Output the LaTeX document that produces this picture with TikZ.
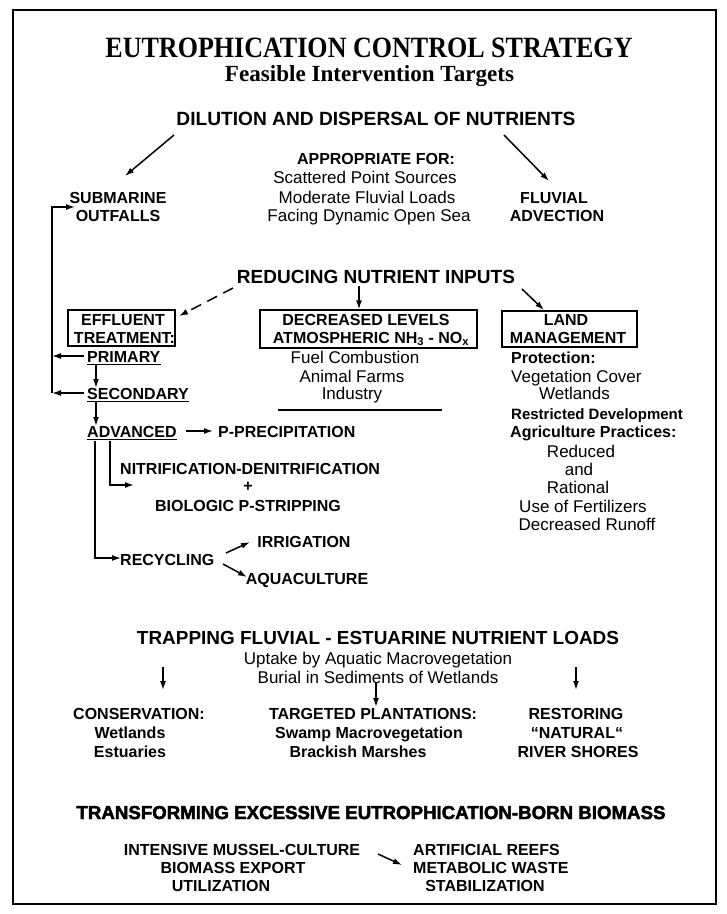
\documentclass[tikz,border=0pt]{standalone}
\usepackage{fontspec}
\usepackage{graphicx}
\setmainfont{Liberation Sans}
\newfontfamily\serifb{Liberation Serif}
\newfontfamily\heavyfont{Liberation Sans Bold}[FakeBold=2.5]
\usetikzlibrary{arrows.meta}
\begin{document}
\begin{tikzpicture}[x=1pt,y=-1pt,
  lb/.style={font=\fontsize{16}{18}\selectfont\bfseries, inner sep=0pt, anchor=base},
  lbw/.style={lb, anchor=base west},
  rg/.style={font=\fontsize{17}{19}\selectfont, inner sep=0pt, anchor=base},
  rgw/.style={rg, anchor=base west},
  hd/.style={inner sep=0pt, anchor=base},
  arr/.style={-{Latex[length=9pt,width=6pt]}, line width=1.5pt},
  bx/.style={draw, line width=1.3pt, inner sep=0pt},
  ul/.style={line width=1.2pt}]
\useasboundingbox (0,0) rectangle (727,914);
\draw[line width=1.6pt] (13,10) rectangle (716,904);

% titles
\node[hd] (t1) at (369,57.5) {\resizebox{527pt}{19.5pt}{\serifb\bfseries EUTROPHICATION CONTROL STRATEGY}};
\node[hd] (t2) at (369.5,81) {\resizebox{289pt}{!}{\serifb\bfseries Feasible Intervention Targets}};

% dilution
\node[hd] (dil) at (376,125) {\resizebox{399pt}{!}{\bfseries DILUTION AND DISPERSAL OF NUTRIENTS}};
\node[lb] (app) at (376,164) {APPROPRIATE FOR:};
\node[rg] (sc1) at (365,183) {Scattered Point Sources};
\node[rg] (sc2) at (367,203) {Moderate Fluvial Loads};
\node[rg] (sc3) at (369,221) {Facing Dynamic Open Sea};
\node[lb] (sub1) at (118,203) {SUBMARINE};
\node[lb] (sub2) at (118,221) {OUTFALLS};
\node[lb] (flu1) at (554,203) {FLUVIAL};
\node[lb] (flu2) at (557,221) {ADVECTION};
\coordinate (dA) at (174,135); \coordinate (dB) at (125,176);
\coordinate (dC) at (504,135); \coordinate (dD) at (549,181);
\draw[arr] (dA) -- (dB);
\draw[arr] (dC) -- (dD);

% reducing
\node[hd] (red) at (376,283) {\resizebox{278pt}{!}{\bfseries REDUCING NUTRIENT INPUTS}};
\node[bx, minimum width=107pt, minimum height=36pt] (efbox) at (121.5,328) {};
\node[lb] (ef1) at (123,325) {EFFLUENT};
\node[lb] (ef2) at (124.5,343) {TREATMENT:};
\node[lbw] (pri) at (87,362) {PRIMARY};
\node[lbw] (sec) at (87,399) {SECONDARY};
\node[lbw] (adv) at (87,437) {ADVANCED};
\draw[ul] ([yshift=-2.5pt]pri.base west) -- ([yshift=-2.5pt]pri.base east);
\draw[ul] ([yshift=-2.5pt]sec.base west) -- ([yshift=-2.5pt]sec.base east);
\draw[ul] ([yshift=-2.5pt]adv.base west) -- ([yshift=-2.5pt]adv.base east);
\node[lbw] (pp) at (218,437) {P-PRECIPITATION};
\node[lbw] (nit) at (120,474) {NITRIFICATION-DENITRIFICATION};
\node[lb] (plus) at (248,491) {+};
\node[lb] (bio) at (248,511) {BIOLOGIC P-STRIPPING};
\node[lb] (irr) at (304,547) {IRRIGATION};
\node[lbw] (rec) at (120,565) {RECYCLING};
\node[lb] (aqu) at (307,584) {AQUACULTURE};

\coordinate (vTop) at (52,207); \coordinate (vEnd) at (75,207);
\coordinate (pL) at (52,356); \coordinate (sL) at (52,393);
\draw[arr] (sL) -- (vTop) -- (vEnd);
\draw[arr] (84,356) -- (pL);
\draw[arr] (84,393) -- (sL);
\draw[arr] (96,365) -- (96,388);
\draw[arr] (96,402) -- (96,426);
\draw[arr] (186,431) -- (213,431);
\draw[arr] (95,441) -- (95,558) -- (121,558);
\draw[arr] (110,441) -- (110,485) -- (134,485);
\coordinate (rcA) at (226,553); \coordinate (rcB) at (250,542);
\coordinate (rcC) at (223,564); \coordinate (rcD) at (247,577);
\draw[arr] (rcA) -- (rcB);
\draw[arr] (rcC) -- (rcD);

\node[bx, minimum width=217pt, minimum height=38pt] (dlbox) at (368.5,329) {};
\node[lb] (dl1) at (366,325) {DECREASED LEVELS};
\node[lb] (dl2) at (371,343) {ATMOSPHERIC NH\textsubscript{3} - NO\textsubscript{x}};
\node[rg] (fc1) at (355,363) {Fuel Combustion};
\node[rg] (fc2) at (352,382) {Animal Farms};
\node[rg] (fc3) at (352,399) {Industry};
\coordinate (hlA) at (278,410); \coordinate (hlB) at (442,410);
\draw[line width=1.3pt] (hlA) -- (hlB);

\node[bx, minimum width=135pt, minimum height=36pt] (lmbox) at (569.5,329) {};
\node[lb] (lm1) at (566,325) {LAND};
\node[lb] (lm2) at (568,343) {MANAGEMENT};
\node[lbw] (pr) at (511,363) {Protection:};
\node[rgw] (vc) at (511,382) {Vegetation Cover};
\node[rgw] (wl) at (539,399) {Wetlands};
\node[lbw, font=\fontsize{15}{17}\selectfont\bfseries] (rd) at (511,419) {Restricted Development};
\node[lbw] (ap) at (510,437) {Agriculture Practices:};
\node[rg] (r1) at (581,457) {Reduced};
\node[rg] (r2) at (579,475) {and};
\node[rg] (r3) at (578,493) {Rational};
\node[rg] (r4) at (583,512) {Use of Fertilizers};
\node[rg] (r5) at (587,530) {Decreased Runoff};

\coordinate (rA) at (233,288); \coordinate (rB) at (179,316);
\draw[arr, dash pattern=on 11pt off 7pt] (rA) -- (rB);
\draw[arr] (359,286) -- (dlbox.north -| 359,0);
\coordinate (rC) at (522,289); \coordinate (rD) at (544,310);
\draw[arr] (rC) -- (rD);

% trapping
\node[hd] (trap) at (378,644) {\resizebox{482pt}{!}{\bfseries TRAPPING FLUVIAL - ESTUARINE NUTRIENT LOADS}};
\node[rg] (up1) at (378,664) {Uptake by Aquatic Macrovegetation};
\node[rg] (up2) at (378,683) {Burial in Sediments of Wetlands};
\node[lb] (c1) at (139,719) {CONSERVATION:};
\node[lb] (c2) at (130,738) {Wetlands};
\node[lb] (c3) at (130,757) {Estuaries};
\node[lb] (tp1) at (373,719) {TARGETED PLANTATIONS:};
\node[lb] (tp2) at (369,738) {Swamp Macrovegetation};
\node[lb] (tp3) at (358,757) {Brackish Marshes};
\node[lb] (rs1) at (576,719) {RESTORING};
\node[lb] (rs2) at (577,738) {“NATURAL“};
\node[lb] (rs3) at (578,757) {RIVER SHORES};
\coordinate (tA) at (163,667); \coordinate (tB) at (163,690);
\coordinate (tC) at (376,683); \coordinate (tD) at (376,707);
\coordinate (tE) at (576,667); \coordinate (tF) at (576,690);
\draw[arr] (tA) -- (tB);
\draw[arr] (tC) -- (tD);
\draw[arr] (tE) -- (tF);

% transforming
\node[hd] (trans) at (371,819) {\resizebox{589pt}{!}{\heavyfont TRANSFORMING EXCESSIVE EUTROPHICATION-BORN BIOMASS}};
\node[lb] (mu1) at (242,855) {INTENSIVE MUSSEL-CULTURE};
\node[lb] (mu2) at (233,873) {BIOMASS EXPORT};
\node[lb] (mu3) at (221,891) {UTILIZATION};
\node[lbw] (ar1) at (413,855) {ARTIFICIAL REEFS};
\node[lbw] (ar2) at (413,873) {METABOLIC WASTE};
\node[lb] (ar3) at (485,891) {STABILIZATION};
\coordinate (mA) at (378,854); \coordinate (mB) at (402,865);
\draw[arr] (mA) -- (mB);
\end{tikzpicture}
\end{document}
